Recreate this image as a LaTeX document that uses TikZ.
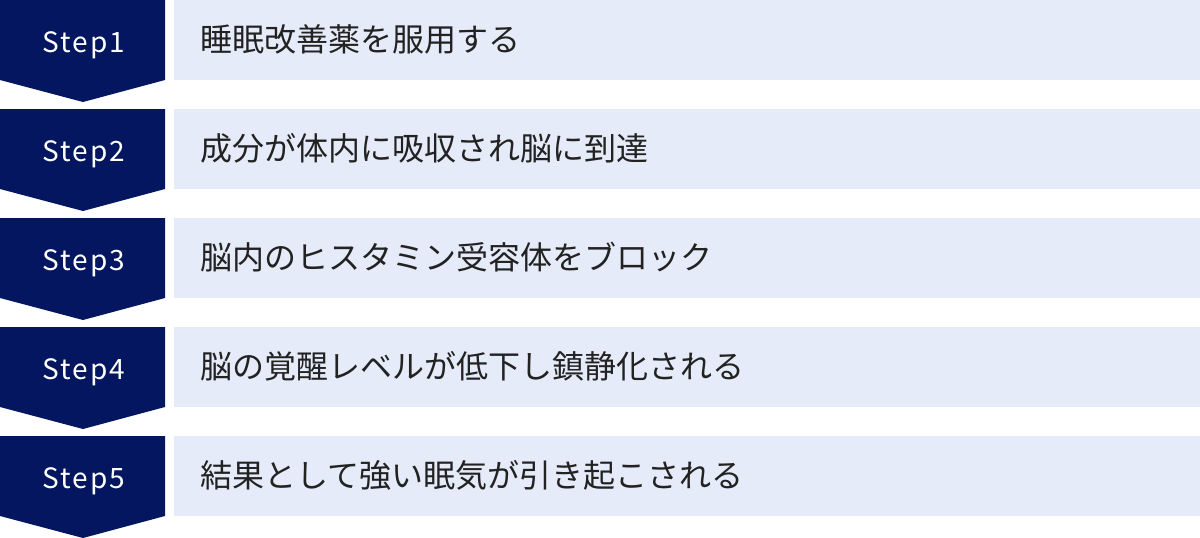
\documentclass[tikz,border=0pt]{standalone}
\usepackage{fontspec}
\setmainfont{Noto Sans CJK JP}
\newfontfamily\stepfont[LetterSpace=7]{Noto Sans CJK JP}
\definecolor{navy}{HTML}{03165F}
\definecolor{pale}{HTML}{E5EBF8}
\definecolor{ink}{HTML}{222222}
\tikzset{
  stepbadge/.style={fill=navy, draw=none},
  steplabel/.style={text=white, font=\stepfont\fontsize{28}{32}\selectfont, anchor=base, inner sep=0pt},
  contentbox/.style={fill=pale, draw=none},
  contentlabel/.style={text=ink, font=\fontsize{32}{36}\selectfont, anchor=base west, inner sep=0pt},
}
\begin{document}
\begin{tikzpicture}[x=1pt,y=-1pt]
\useasboundingbox (0,0) rectangle (1200,538);
\foreach \i/\t in {0/睡眠改善薬を服用する,1/成分が体内に吸収され脳に到達,2/脳内のヒスタミン受容体をブロック,3/脳の覚醒レベルが低下し鎮静化される,4/結果として強い眠気が引き起こされる}{
  \pgfmathsetmacro{\top}{109*\i}
  \fill[stepbadge] (0,\top) -- (165,\top) -- (165,\top+80) -- (83,\top+102) -- (0,\top+80) -- cycle;
  \fill[contentbox] (174,\top) rectangle (1200,\top+80);
  \pgfmathtruncatemacro{\n}{\i+1}
  \node[steplabel] (s\n) at (84,\top+52) {Step\n};
  \node[contentlabel] (c\n) at (200,\top+51) {\t};
}
\end{tikzpicture}
\end{document}
